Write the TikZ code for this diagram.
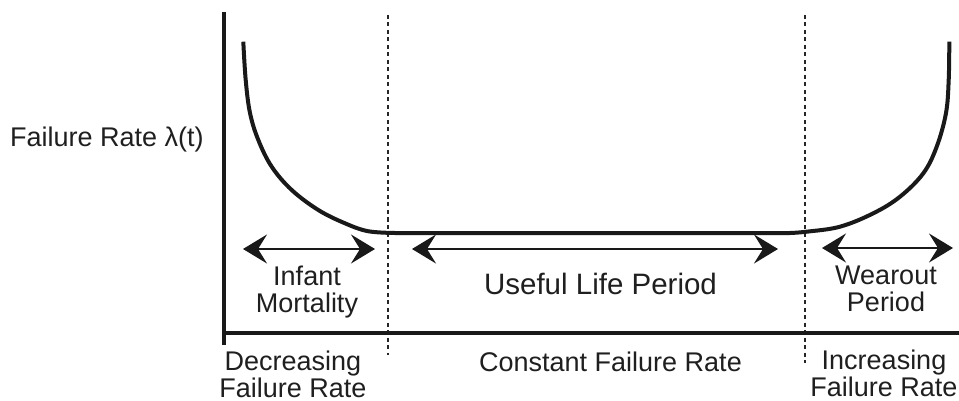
\documentclass[tikz,border=0pt]{standalone}
\usepackage{fontspec}
\setmainfont{Liberation Sans}
\usetikzlibrary{arrows.meta}
\begin{document}
\begin{tikzpicture}[x=1pt,y=-1pt,
  axis/.style={line width=3.6pt, draw=black!90},
  curve/.style={line width=4pt, draw=black!90, line join=round},
  dim/.style={line width=2.2pt, draw=black!90,
    {Stealth[length=24pt,width=29pt,inset=9pt]}-{Stealth[length=24pt,width=29pt,inset=9pt]}},
  divider/.style={line width=1.8pt, draw=black!85, dash pattern=on 4pt off 3.5pt},
  lbl/.style={font=\fontsize{27}{27}\selectfont, text=black!88, inner sep=0pt, align=center},
  biglbl/.style={lbl, font=\fontsize{29.5}{30}\selectfont}]
\useasboundingbox[fill=white] (0,0) rectangle (959,401);

% dividers
\coordinate (d1t) at (388,15);
\coordinate (d1b) at (388,355);
\coordinate (d2t) at (805,15);
\coordinate (d2b) at (805,363);
\draw[divider] (d1t) -- (d1b);
\draw[divider] (d2t) -- (d2b);

% bathtub curve
\draw[curve] plot[smooth, tension=0.6] coordinates {
  (243.3,41.7) (245.7,80) (250,113) (258.3,140) (271.7,166.7) (291.7,190)
  (318.3,210) (345,223.3) (368,231.2) (395,233)}
  -- plot[smooth, tension=0.6] coordinates {
  (790,233) (806.7,231.7) (840,226.7) (873.3,213.3) (900,196.7) (923.3,173.3)
  (936.7,146.7) (946,113) (948.7,80) (949.3,41.7)};

% axes
\coordinate (yTop) at (224,12);
\coordinate (yBot) at (224,345);
\coordinate (xStart) at (222.2,333);
\coordinate (xEnd) at (959,333);
\draw[axis] (yTop) -- (yBot);
\draw[axis] (xStart) -- (xEnd);

% period arrows
\coordinate (a1l) at (243,249);
\coordinate (a1r) at (375,249);
\coordinate (a2l) at (412,249);
\coordinate (a2r) at (778,249);
\coordinate (a3l) at (822,248);
\coordinate (a3r) at (953,248);
\draw[dim] (a1l) -- (a1r);
\draw[dim] (a2l) -- (a2r);
\draw[dim] (a3l) -- (a3r);

% labels
\node[lbl, anchor=base west] (ylabel) at (10,147) {Failure Rate λ(t)};
\node[lbl] (infant) at (307,292) {Infant\\Mortality};
\node[biglbl] (useful) at (600.5,283.5) {Useful Life Period};
\node[lbl] (wearout) at (886,289) {Wearout\\Period};
\node[lbl] (decr) at (293,374) {Decreasing\\Failure Rate};
\node[lbl] (const) at (610.5,362) {Constant Failure Rate};
\node[lbl] (incr) at (884,373.5) {Increasing\\Failure Rate};
\end{tikzpicture}
\end{document}
